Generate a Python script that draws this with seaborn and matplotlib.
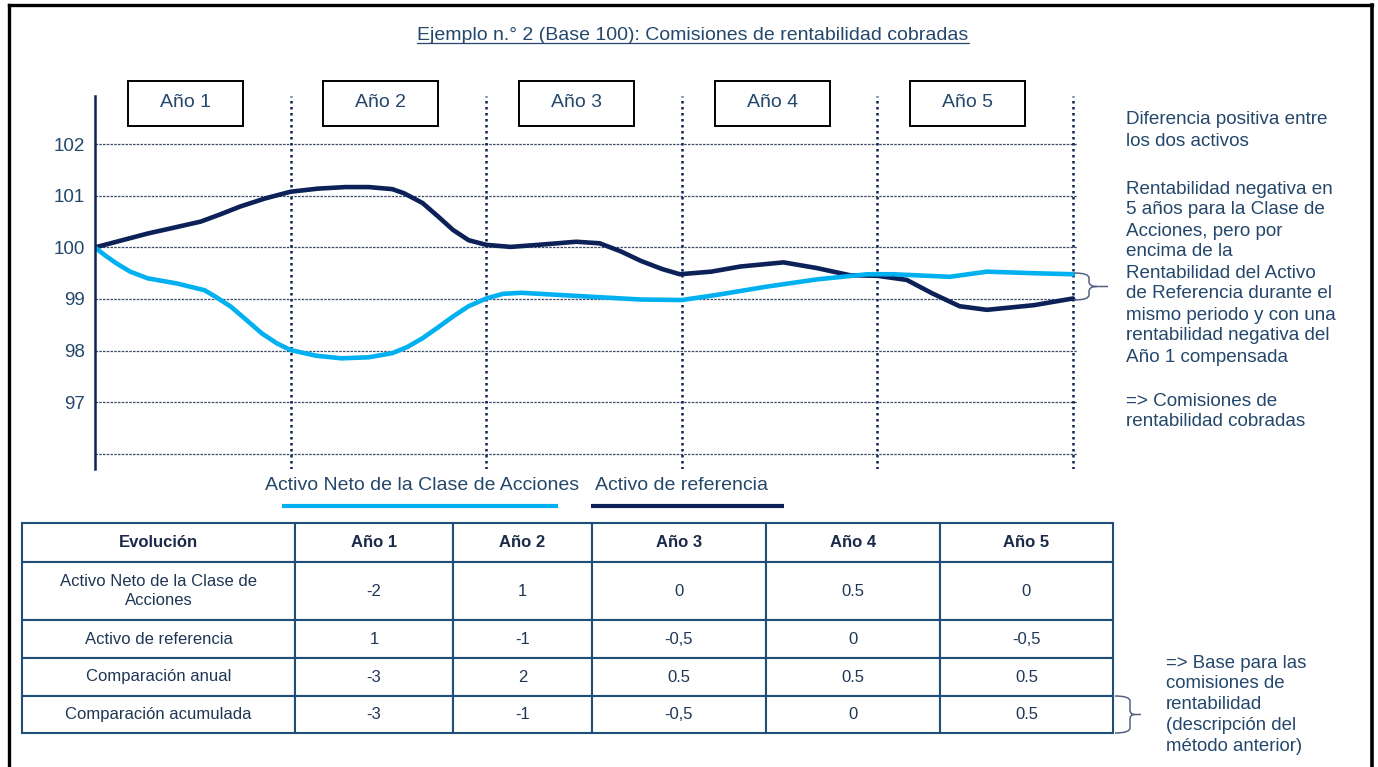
import numpy as np
import pandas as pd
import matplotlib
matplotlib.use("Agg")
import matplotlib.pyplot as plt
import seaborn as sns
from matplotlib.path import Path
from matplotlib.patches import PathPatch, Rectangle
from matplotlib.transforms import blended_transform_factory

# ---------------- data ----------------
title = "Ejemplo n.° 2 (Base 100): Comisiones de rentabilidad cobradas"
year_labels = ["Año 1", "Año 2", "Año 3", "Año 4", "Año 5"]
series_net = "Activo Neto de la Clase de Acciones"
series_ref = "Activo de referencia"

# Activo de referencia (dark line)
t_ref = [0.0, 0.13, 0.27, 0.4, 0.54, 0.64, 0.74, 0.87, 1.0, 1.14, 1.28, 1.4,
         1.52, 1.58, 1.675, 1.754, 1.83, 1.91, 2.0, 2.125, 2.3, 2.46, 2.58,
         2.69, 2.79, 2.9, 2.99, 3.15, 3.3, 3.52, 3.69, 3.86, 4.0, 4.15, 4.28,
         4.42, 4.56, 4.8, 5.0]
v_ref = [100.0, 100.13, 100.27, 100.38, 100.5, 100.64, 100.79, 100.95, 101.08,
         101.14, 101.17, 101.17, 101.13, 101.05, 100.86, 100.6, 100.34, 100.14,
         100.05, 100.01, 100.06, 100.11, 100.08, 99.92, 99.74, 99.58, 99.48,
         99.53, 99.63, 99.71, 99.6, 99.46, 99.45, 99.37, 99.11, 98.86, 98.79,
         98.88, 99.01]

# Activo Neto de la Clase de Acciones (light line)
t_net = [0.0, 0.05, 0.11, 0.18, 0.27, 0.42, 0.56, 0.618, 0.695, 0.775, 0.854,
         0.93, 1.0, 1.13, 1.26, 1.4, 1.52, 1.597, 1.675, 1.754, 1.83, 1.91,
         2.0, 2.086, 2.18, 2.46, 2.79, 3.0, 3.18, 3.435, 3.69, 3.95, 4.08,
         4.37, 4.56, 4.8, 5.0]
v_net = [100.0, 99.85, 99.69, 99.53, 99.4, 99.3, 99.17, 99.04, 98.85, 98.59,
         98.33, 98.14, 98.01, 97.9, 97.85, 97.87, 97.95, 98.07, 98.24, 98.45,
         98.66, 98.86, 99.01, 99.1, 99.12, 99.06, 98.99, 98.98, 99.08, 99.24,
         99.38, 99.48, 99.48, 99.43, 99.53, 99.5, 99.48]

ytick_values = [97, 98, 99, 100, 101, 102]
grid_levels = [96, 97, 98, 99, 100, 101, 102]
year_bounds = [1, 2, 3, 4, 5]

table_header = ["Evolución", "Año 1", "Año 2", "Año 3", "Año 4", "Año 5"]
row_labels = ["Activo Neto de la Clase de\nAcciones", "Activo de referencia",
              "Comparación anual", "Comparación acumulada"]
row_net = ["-2", "1", "0", "0.5", "0"]
row_ref = ["1", "-1", "-0,5", "0", "-0,5"]
row_annual = ["-3", "2", "0.5", "0.5", "0.5"]
row_cumul = ["-3", "-1", "-0,5", "0", "0.5"]

note_paragraphs = [
    ["Diferencia positiva entre", "los dos activos"],
    ["Rentabilidad negativa en", "5 años para la Clase de", "Acciones, pero por",
     "encima de la", "Rentabilidad del Activo", "de Referencia durante el",
     "mismo periodo y con una", "rentabilidad negativa del", "Año 1 compensada"],
    ["=> Comisiones de", "rentabilidad cobradas"],
]
note_table = ["=> Base para las", "comisiones de", "rentabilidad",
              "(descripción del", "método anterior)"]

# ---------------- style ----------------
sns.set_theme(style="white")
plt.rcParams['font.family'] = ['Liberation Sans', 'DejaVu Sans']

LIGHT = "#00b0f0"
DARK = "#0c2157"
TXT = "#24476b"
NAVY = "#0d2350"
BORDER = "#1f4e79"

W, H = 1378, 767
fig = plt.figure(figsize=(W / 100, H / 100), dpi=100)
fig.patch.set_facecolor("white")

# ---------------- main chart ----------------
px_per_year = 195.6
ax = fig.add_axes([95 / W, 1 - 469.2 / H, 983 / W, (469.2 - 96.3) / H])
ax.set_xlim(0, 983 / px_per_year)
ax.set_ylim(95.7, 102.93)
ax.set_facecolor("white")

for g in grid_levels:
    ax.axhline(g, color="#3d4a66", lw=0.9, ls=(0, (2, 1)), zorder=1)
for k in year_bounds:
    ax.axvline(k, color=NAVY, lw=1.8, ls=(0, (1, 1.4)), zorder=2)

df = pd.concat([
    pd.DataFrame({"t": t_ref, "v": v_ref, "serie": series_ref}),
    pd.DataFrame({"t": t_net, "v": v_net, "serie": series_net}),
], ignore_index=True)
sns.lineplot(data=df, x="t", y="v", hue="serie", hue_order=[series_ref, series_net],
             palette={series_ref: DARK, series_net: LIGHT}, linewidth=3.3,
             estimator=None, sort=False, legend=False, ax=ax, zorder=3)
for ln in ax.get_lines():
    ln.set_solid_joinstyle("round")
    ln.set_solid_capstyle("round")

for s in ["top", "right", "bottom"]:
    ax.spines[s].set_visible(False)
ax.spines["left"].set_color(NAVY)
ax.spines["left"].set_linewidth(1.8)
ax.spines["left"].set_zorder(4)
ax.set_xticks([])
ax.set_yticks(ytick_values)
ax.set_yticklabels([str(v) for v in ytick_values])
ax.tick_params(axis="y", length=0, pad=7, labelsize=13.5, labelcolor=TXT)
ax.set_xlabel("")
ax.set_ylabel("")

# year boxes above the chart
trans = blended_transform_factory(ax.transData, fig.transFigure)
box_w = 115 / px_per_year
for i, lab in enumerate(year_labels):
    cx = i + 0.5 - 0.038
    ax.add_patch(Rectangle((cx - box_w / 2, 1 - 126 / H), box_w, 45 / H,
                           transform=trans, fill=False, ec="black", lw=1.4,
                           clip_on=False))
    ax.text(cx, 1 - 102.5 / H, lab, transform=trans, ha="center", va="center",
            fontsize=14, color=TXT)

# ---------------- overlay (pixel coordinates) ----------------
ov = fig.add_axes([0, 0, 1, 1], zorder=10)
ov.set_xlim(0, W)
ov.set_ylim(H, 0)
ov.axis("off")
ov.patch.set_alpha(0)

# frame
ov.plot([9, 9], [4.5, H + 5], color="black", lw=2.4, solid_capstyle="projecting")
ov.plot([9, 1372], [4.5, 4.5], color="black", lw=2.4, solid_capstyle="projecting")
ov.plot([1372, 1372], [4.5, H + 5], color="black", lw=2.6, solid_capstyle="projecting")

# title with underline
tt = ov.text(693, 39.5, title, ha="center", va="baseline", fontsize=14, color=TXT)
fig.canvas.draw()
bb = tt.get_window_extent(fig.canvas.get_renderer())
inv = ov.transData.inverted()
(x0, _), (x1, _) = inv.transform([[bb.x0, bb.y0], [bb.x1, bb.y1]])
ov.plot([x0, x1], [42.6, 42.6], color=TXT, lw=0.9)

# legend
ov.text(265, 486, series_net, ha="left", va="center", fontsize=14, color=TXT)
ov.text(595, 486, series_ref, ha="left", va="center", fontsize=14, color=TXT)
ov.plot([282, 558], [506, 506], color=LIGHT, lw=3.0, solid_capstyle="butt")
ov.plot([591, 784], [506, 506], color=DARK, lw=3.0, solid_capstyle="butt")

# notes
para_tops = [120, 189, 401]
for top, lines in zip(para_tops, note_paragraphs):
    for j, line in enumerate(lines):
        ov.text(1126, top + 21 * j, line, ha="left", va="center", fontsize=13.6,
                color=TXT)
for j, line in enumerate(note_table):
    ov.text(1166, 663 + 20.8 * j, line, ha="left", va="center", fontsize=13.4,
            color=TXT)


def brace(x0, y0, y1, xv, xt, r=5):
    ym = (y0 + y1) / 2
    verts = [(x0, y0), (xv, y0), (xv, y0 + r),
             (xv, ym - r), (xv, ym), (xv + (xt - xv) * 0.4, ym),
             (xt, ym), (xv + (xt - xv) * 0.4, ym), (xv, ym), (xv, ym + r),
             (xv, y1 - r), (xv, y1), (x0, y1)]
    codes = [Path.MOVETO, Path.CURVE3, Path.CURVE3,
             Path.LINETO, Path.CURVE3, Path.CURVE3,
             Path.LINETO, Path.MOVETO, Path.CURVE3, Path.CURVE3,
             Path.LINETO, Path.CURVE3, Path.CURVE3]
    ov.add_patch(PathPatch(Path(verts, codes), fill=False, ec="#55627f", lw=1.1))


brace(1074, 273, 300, 1089, 1108)
brace(1115, 696, 733, 1130, 1141)

# ---------------- table ----------------
tax = fig.add_axes([22 / W, 1 - 733 / H, 1091 / W, 210 / H])
tax.axis("off")
col_px = [273, 158, 139, 174, 174, 173]
row_px = [39, 58, 38, 38, 37]
body = [[row_labels[0]] + row_net, [row_labels[1]] + row_ref,
        [row_labels[2]] + row_annual, [row_labels[3]] + row_cumul]
tbl = tax.table(cellText=body, colLabels=table_header,
                colWidths=[c / sum(col_px) for c in col_px],
                cellLoc="center", bbox=[0, 0, 1, 1])
tbl.auto_set_font_size(False)
for (r, c), cell in tbl.get_celld().items():
    cell.set_height(row_px[r] / sum(row_px))
    cell.set_edgecolor(BORDER)
    cell.set_linewidth(1.5)
    cell.set_facecolor("white")
    txt = cell.get_text()
    txt.set_fontsize(12)
    txt.set_linespacing(1.35)
    if r == 0:
        txt.set_fontweight("bold")
        txt.set_color("#1a2a48")
    else:
        txt.set_color("#1f3654")

fig.savefig("out.png", dpi=100, facecolor="white")
